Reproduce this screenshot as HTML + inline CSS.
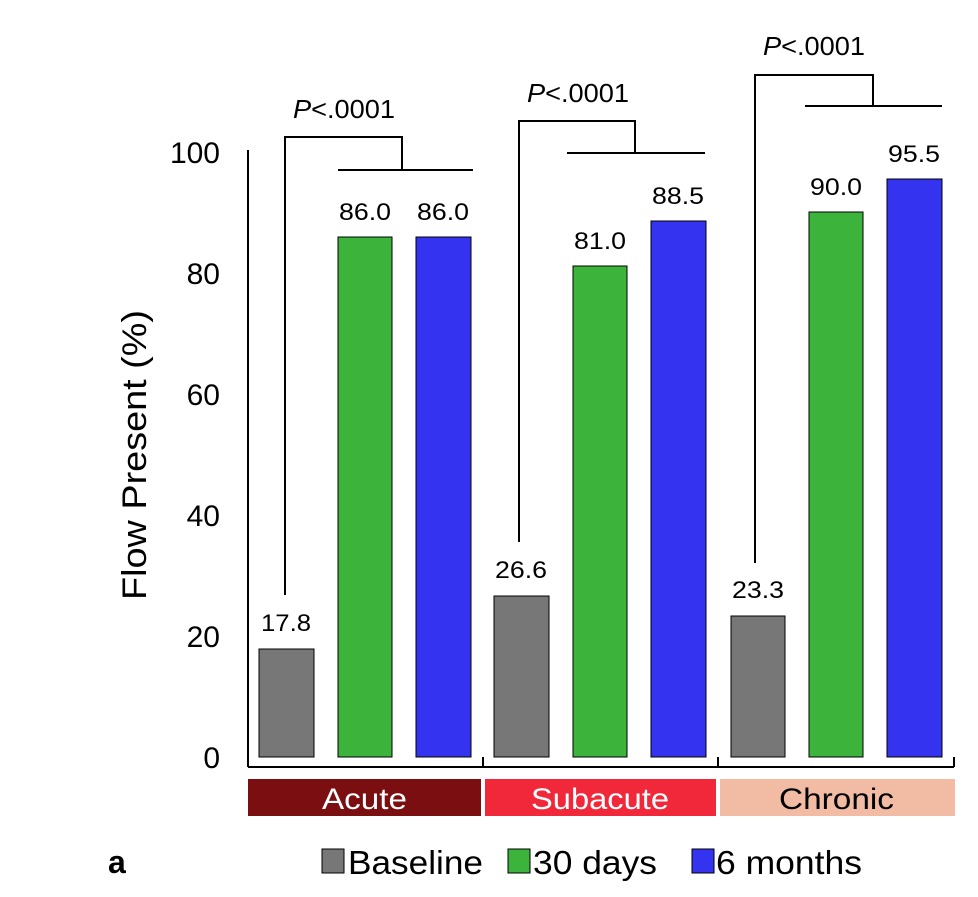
<!DOCTYPE html>
<html><head><style>body{margin:0;background:#fff}</style></head><body>
<svg width="978" height="892" xmlns="http://www.w3.org/2000/svg" font-family="Liberation Sans, Arial, sans-serif">
<rect width="978" height="892" fill="#fff"/>
<g stroke="#000" stroke-width="1">
<rect x="259" y="649" width="55" height="108" fill="#777"/>
<rect x="338" y="237" width="54" height="520" fill="#3cb43c"/>
<rect x="416" y="237" width="55" height="520" fill="#3434f0"/>
<rect x="494" y="596" width="55" height="161" fill="#777"/>
<rect x="573" y="266" width="54" height="491" fill="#3cb43c"/>
<rect x="651" y="221" width="55" height="536" fill="#3434f0"/>
<rect x="731" y="616" width="54" height="141" fill="#777"/>
<rect x="809" y="212" width="54" height="545" fill="#3cb43c"/>
<rect x="887" y="179" width="55" height="578" fill="#3434f0"/>
</g>
<g stroke="#000" stroke-width="2" fill="none">
<line x1="248" y1="150" x2="248" y2="767"/>
<line x1="248" y1="767" x2="954" y2="767"/>
<line x1="483" y1="757" x2="483" y2="767"/>
<line x1="718" y1="757" x2="718" y2="767"/>
<line x1="954" y1="757" x2="954" y2="767"/>
<polyline points="285,595 285,137 402,137 402,170"/><line x1="338" y1="170" x2="473" y2="170"/>
<polyline points="519,542 519,121 635,121 635,153"/><line x1="567" y1="153" x2="705" y2="153"/>
<polyline points="755,563 755,75 873,75 873,106"/><line x1="805" y1="106" x2="942" y2="106"/>
</g>
<g font-size="24" fill="#000">
<text x="261" y="631" textLength="50" lengthAdjust="spacingAndGlyphs">17.8</text><text x="339" y="220" textLength="52" lengthAdjust="spacingAndGlyphs">86.0</text><text x="417" y="220" textLength="52" lengthAdjust="spacingAndGlyphs">86.0</text>
<text x="495" y="578" textLength="52" lengthAdjust="spacingAndGlyphs">26.6</text><text x="574" y="249" textLength="52" lengthAdjust="spacingAndGlyphs">81.0</text><text x="652" y="204" textLength="52" lengthAdjust="spacingAndGlyphs">88.5</text>
<text x="732" y="598" textLength="52" lengthAdjust="spacingAndGlyphs">23.3</text><text x="810" y="195" textLength="52" lengthAdjust="spacingAndGlyphs">90.0</text><text x="888" y="162" textLength="52" lengthAdjust="spacingAndGlyphs">95.5</text>
<text x="293" y="118" textLength="102" lengthAdjust="spacingAndGlyphs" font-size="26"><tspan font-style="italic">P</tspan>&lt;.0001</text>
<text x="527" y="102" textLength="102" lengthAdjust="spacingAndGlyphs" font-size="26"><tspan font-style="italic">P</tspan>&lt;.0001</text>
<text x="763" y="55" textLength="102" lengthAdjust="spacingAndGlyphs" font-size="26"><tspan font-style="italic">P</tspan>&lt;.0001</text>
</g>
<g font-size="30" text-anchor="end">
<text x="220" y="163">100</text><text x="220" y="284">80</text><text x="220" y="405">60</text>
<text x="220" y="526">40</text><text x="220" y="647">20</text><text x="220" y="768">0</text>
</g>
<text transform="translate(146,455) rotate(-90)" font-size="34" text-anchor="middle" textLength="290" lengthAdjust="spacingAndGlyphs">Flow Present (%)</text>
<rect x="248" y="779" width="233" height="37" fill="#7a0e10"/>
<rect x="485" y="779" width="231" height="37" fill="#f0283a"/>
<rect x="720" y="779" width="235" height="37" fill="#f2bba3"/>
<g font-size="30">
<text x="322" y="809" fill="#fff" textLength="85" lengthAdjust="spacingAndGlyphs">Acute</text>
<text x="531" y="809" fill="#fff" textLength="138" lengthAdjust="spacingAndGlyphs">Subacute</text>
<text x="779" y="809" fill="#000" textLength="115" lengthAdjust="spacingAndGlyphs">Chronic</text>
</g>
<text x="108" y="873" font-size="32" font-weight="bold">a</text>
<g stroke="#000" stroke-width="1">
<rect x="322" y="849" width="22" height="24" fill="#777"/>
<rect x="508" y="849" width="22" height="24" fill="#3cb43c"/>
<rect x="692" y="849" width="22" height="24" fill="#3434f0"/>
</g>
<g font-size="33">
<text x="348" y="874" textLength="135" lengthAdjust="spacingAndGlyphs">Baseline</text>
<text x="533" y="874" textLength="124" lengthAdjust="spacingAndGlyphs">30 days</text>
<text x="716" y="874" textLength="146" lengthAdjust="spacingAndGlyphs">6 months</text>
</g>
</svg>
</body></html>
